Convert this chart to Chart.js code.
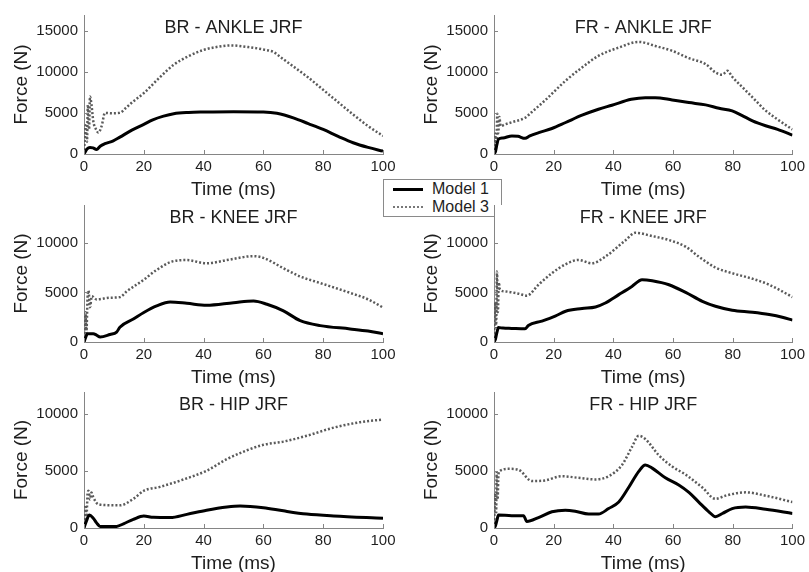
<!DOCTYPE html>
<html>
<head>
<meta charset="utf-8">
<script src="https://cdn.jsdelivr.net/npm/chart.js@4.4.1/dist/chart.umd.min.js"></script>
<style>
  body { margin: 0; background: #fff; }
  #wrap { position: relative; width: 809px; height: 572px; overflow: hidden; background: #fff; }
  #wrap canvas { position: absolute; z-index: 2; }
  #legend {
    position: absolute; left: 383px; top: 179px; width: 117px; height: 36px;
    border: 1px solid #8a8a8a; background: #fff; z-index: 1;
    font: 16px "Liberation Sans", Arial, sans-serif; color: #1e1e1e;
  }
  #legend .row { position: relative; height: 18px; line-height: 18px; padding-left: 48px; }
  #legend .sample { position: absolute; left: 9px; top: 8px; width: 30px; }
  #legend .solid { border-top: 3px solid #000; top: 8px; }
  #legend .dotted { border-top: 2px dotted #777; top: 8px; }
</style>
</head>
<body>
<div id="wrap">
  <div id="legend">
    <div class="row"><span class="sample solid"></span>Model 1</div>
    <div class="row"><span class="sample dotted"></span>Model 3</div>
  </div>
</div>
<script>
// [time (ms), force (N)] pairs
const brAnkleM1 = [[0,0],[0.5,300],[1,600],[2,800],[3,750],[4.2,550],[5.4,950],[7,1250],[9.8,1600],[12,2050],[16,2900],[20,3600],[23,4150],[26.6,4600],[30,4900],[35,5050],[40,5100],[50,5150],[60,5100],[64.5,4950],[67,4750],[70,4400],[75,3700],[80,2980],[85,2150],[90,1370],[95,800],[100,350]];
const brAnkleM3 = [[0,0],[0.5,3500],[1,1500],[1.3,6000],[1.7,3000],[2,7000],[2.5,6000],[3.1,4000],[4,3000],[4.8,2600],[5.9,3400],[7,5000],[9,4950],[12,5000],[14,5600],[16.5,6400],[20,7400],[25,9200],[30,10850],[35,11900],[40,12650],[45,13050],[49,13200],[55,13000],[60,12700],[63.4,12400],[66,11700],[70,10650],[75,9300],[80,7800],[85,6300],[90,4800],[95,3400],[100,2200]];

const frAnkleM1 = [[0,0],[0.5,300],[1,1200],[1.5,1800],[3,1950],[6,2200],[8,2150],[10.4,1900],[12,2200],[15,2600],[19.4,3100],[24,3830],[29.5,4720],[35,5440],[39.5,5930],[46,6650],[50.7,6850],[54,6850],[59.7,6570],[65.3,6250],[70.9,5970],[75.4,5560],[79.8,5240],[83,4700],[86.6,4030],[91,3430],[95,3000],[100,2300]];
const frAnkleM3 = [[0,0],[0.5,2500],[0.8,1000],[1.1,4900],[1.4,2500],[1.8,4500],[2.2,3400],[3.7,3600],[6,3870],[10.4,4400],[12.6,5080],[17,6490],[24,8910],[29.5,10520],[35,11940],[41.8,12940],[48.5,13630],[54,13140],[59.7,12540],[65.3,11650],[70.9,10930],[74.2,9920],[76.5,9640],[78.2,10120],[79.8,9390],[83,8200],[86.6,6890],[91,5280],[95,4200],[100,2980]];

const brKneeM1 = [[0,0],[0.5,400],[1.1,830],[3.1,830],[4.2,700],[5.4,500],[8.7,760],[10.9,990],[12,1490],[16.5,2310],[20,2970],[24.3,3630],[28.8,4030],[34.4,3900],[41,3700],[50,3960],[56.7,4130],[61.2,3800],[66.7,3140],[72.3,2150],[79,1650],[89,1320],[95,1100],[100,830]];
const brKneeM3 = [[0,0],[0.5,3000],[0.8,1000],[1.2,4500],[1.5,5200],[2,3500],[2.6,4620],[4.2,4290],[8.7,4460],[12,4520],[14.3,5100],[20,6270],[24.3,7260],[30,8150],[34.4,8250],[41,7920],[47.8,8250],[56.7,8650],[60,8480],[66.7,7430],[72.3,6600],[79,5940],[89,4950],[95,4300],[100,3470]];

const frKneeM1 = [[0,0],[0.5,300],[1,1000],[1.5,1450],[3,1400],[5.9,1370],[10.4,1330],[11.5,1670],[16,2100],[20.5,2600],[24,3100],[29.5,3370],[34,3530],[37.3,3930],[41.8,4770],[46.2,5600],[49.6,6270],[53,6170],[58.6,5770],[64.2,5000],[69.8,4100],[74.2,3600],[79.8,3200],[86.6,3000],[92.2,2770],[96.6,2500],[100,2200]];
const frKneeM3 = [[0,0],[0.4,4000],[0.7,1500],[1,7100],[1.3,3000],[1.6,6000],[2,5270],[3.7,5100],[8.2,4870],[11,4670],[14.9,5770],[19.4,6930],[24,7830],[28.3,8270],[32.8,7930],[37.3,8600],[44,10230],[47.4,11000],[53,10670],[58.6,10270],[64.2,9600],[68.6,8600],[74.2,7500],[79.8,6930],[86.6,6370],[92.2,5770],[100,4530]];

const brHipM1 = [[0,0],[0.8,600],[1.8,1130],[3.1,850],[4.2,450],[5.4,140],[10.9,140],[13.2,370],[16.5,760],[20,1050],[23.2,930],[28.8,910],[34.4,1190],[41,1560],[47.8,1840],[52.2,1930],[60,1780],[66.7,1500],[74.5,1220],[83.5,1050],[100,850]];
const brHipM3 = [[0,0],[0.5,2000],[0.8,800],[1.2,3000],[1.5,3260],[2,2500],[2.5,3100],[3.1,2690],[4.8,2070],[8,2000],[12,1980],[16.5,2550],[20,3260],[25.4,3600],[33.3,4250],[41,5010],[47.8,6030],[54.5,6800],[60,7280],[66.7,7560],[74.5,8070],[83.5,8780],[92.4,9260],[100,9490]];

const frHipM1 = [[0,0],[0.5,200],[1,700],[1.5,1130],[5.9,1080],[9.9,1080],[11,570],[14.9,910],[19.4,1420],[23.9,1560],[27.2,1470],[31.7,1220],[35,1220],[38.4,1700],[41.8,2270],[45.1,3540],[48.5,4960],[50.7,5520],[53,5240],[57.4,4390],[61.9,3770],[65.3,3120],[68.6,2270],[72,1420],[74.2,990],[76.5,1270],[79.8,1700],[84.3,1840],[91,1640],[100,1270]];
const frHipM3 = [[0,0],[0.4,3000],[0.7,1200],[0.9,4820],[1.2,2500],[1.5,4700],[2,5010],[4.8,5180],[8.2,5100],[12.7,4110],[17.1,4160],[22.7,4530],[28.3,4390],[33.9,4250],[38.4,4530],[42.9,5520],[46.2,7080],[48.5,8070],[50.7,7790],[55.2,6370],[59.7,5380],[64.2,4670],[69.8,3540],[74.2,2550],[77.6,2830],[84.3,3120],[91,2830],[100,2270]];

const titles = ['BR - ANKLE JRF', 'FR - ANKLE JRF', 'BR - KNEE JRF', 'FR - KNEE JRF', 'BR - HIP JRF', 'FR - HIP JRF'];
const seriesNames = ['Model 1', 'Model 3'];
const xTicks = [0, 20, 40, 60, 80, 100];
const yTicksByRow = [[0, 5000, 10000, 15000], [0, 5000, 10000], [0, 5000, 10000]];
const yMaxByRow = [16900, 13800, 11900];

const FONT = '"Liberation Sans", Arial, sans-serif';
const TEXT = '#1e1e1e';
const AXIS = '#858585';

const panelTitle = {
    id: 'panelTitle',
    afterDraw(chart, args, opts) {
        const { ctx, chartArea } = chart;
        ctx.save();
        ctx.font = '18px ' + FONT;
        ctx.fillStyle = TEXT;
        ctx.textAlign = 'center';
        ctx.textBaseline = 'middle';
        ctx.fillText(opts.text, (chartArea.left + chartArea.right) / 2, chartArea.top + 13.5);
        ctx.restore();
    },
};

// matlab style: ticks point into the plot box, box is white
const innerTicks = {
    id: 'innerTicks',
    beforeDraw(chart) {
        const { ctx, chartArea: a } = chart;
        ctx.save();
        ctx.fillStyle = '#fff';
        ctx.fillRect(a.left, a.top, a.right - a.left, a.bottom - a.top);
        ctx.restore();
    },
    afterDraw(chart) {
        const { ctx, chartArea: a, scales } = chart;
        ctx.save();
        ctx.strokeStyle = AXIS;
        ctx.lineWidth = 1;
        ctx.beginPath();
        scales.x.ticks.forEach((t) => {
            const px = Math.round(scales.x.getPixelForValue(t.value)) + 0.5;
            ctx.moveTo(px, a.bottom);
            ctx.lineTo(px, a.bottom - 4);
        });
        scales.y.ticks.forEach((t) => {
            const py = Math.round(scales.y.getPixelForValue(t.value)) + 0.5;
            ctx.moveTo(a.left, py);
            ctx.lineTo(a.left + 4, py);
        });
        ctx.stroke();
        ctx.restore();
    },
};

const panels = [
    { m1: brAnkleM1, m3: brAnkleM3 },
    { m1: frAnkleM1, m3: frAnkleM3 },
    { m1: brKneeM1, m3: brKneeM3 },
    { m1: frKneeM1, m3: frKneeM3 },
    { m1: brHipM1, m3: brHipM3 },
    { m1: frHipM1, m3: frHipM3 },
];

// canvas placement: plot boxes at x 84-383 / 494-793, rows 14/202/388, 140px tall
const colLeft = [0, 410];
const colWidth = [400, 399];
const colPadRight = [17, 16];
const rowTop = [0, 190, 377];
const rowPadTop = [14, 12, 11];
const PLOT_H = 140;
const X_AXIS_H = 45;
const Y_AXIS_W = 84;

const wrap = document.getElementById('wrap');

panels.forEach((p, i) => {
    const row = Math.floor(i / 2);
    const col = i % 2;
    const canvas = document.createElement('canvas');
    canvas.width = colWidth[col];
    canvas.height = rowPadTop[row] + PLOT_H + X_AXIS_H;
    canvas.style.left = colLeft[col] + 'px';
    canvas.style.top = rowTop[row] + 'px';
    wrap.appendChild(canvas);

    new Chart(canvas.getContext('2d'), {
        type: 'line',
        data: {
            datasets: [
                {
                    label: seriesNames[0],
                    data: p.m1,
                    borderColor: '#000',
                    borderWidth: 3,
                    pointRadius: 0,
                    cubicInterpolationMode: 'monotone',
                },
                {
                    label: seriesNames[1],
                    data: p.m3,
                    borderColor: '#5a5a5a',
                    borderWidth: 2.5,
                    borderDash: [2, 2],
                    pointRadius: 0,
                    cubicInterpolationMode: 'monotone',
                },
            ],
        },
        options: {
            responsive: false,
            animation: false,
            devicePixelRatio: 1,
            layout: { padding: { top: rowPadTop[row], right: colPadRight[col], bottom: 0, left: 0 } },
            plugins: {
                legend: { display: false },
                tooltip: { enabled: false },
                panelTitle: { text: titles[i] },
            },
            scales: {
                x: {
                    type: 'linear',
                    min: 0,
                    max: 100,
                    afterBuildTicks: (s) => { s.ticks = xTicks.map((v) => ({ value: v })); },
                    afterFit: (s) => { s.height = X_AXIS_H; },
                    grid: { display: false, drawTicks: false },
                    border: { display: true, color: AXIS, width: 1 },
                    ticks: { color: TEXT, font: { family: FONT, size: 15 }, padding: 4, maxRotation: 0, autoSkip: false, callback: (v) => String(v) },
                    title: { display: true, text: 'Time (ms)', color: TEXT, font: { family: FONT, size: 19 }, padding: { top: 0, bottom: -2 } },
                },
                y: {
                    type: 'linear',
                    min: 0,
                    max: yMaxByRow[row],
                    afterBuildTicks: (s) => { s.ticks = yTicksByRow[row].map((v) => ({ value: v })); },
                    afterFit: (s) => { s.width = Y_AXIS_W; },
                    grid: { display: false, drawTicks: false },
                    border: { display: true, color: AXIS, width: 1 },
                    ticks: { color: TEXT, font: { family: FONT, size: 15 }, padding: 6, autoSkip: false, callback: (v) => String(v) },
                    title: { display: true, text: 'Force (N)', color: TEXT, font: { family: FONT, size: 19 }, padding: { top: 10, bottom: 0 } },
                },
            },
        },
        plugins: [innerTicks, panelTitle],
    });
});
</script>
</body>
</html>
